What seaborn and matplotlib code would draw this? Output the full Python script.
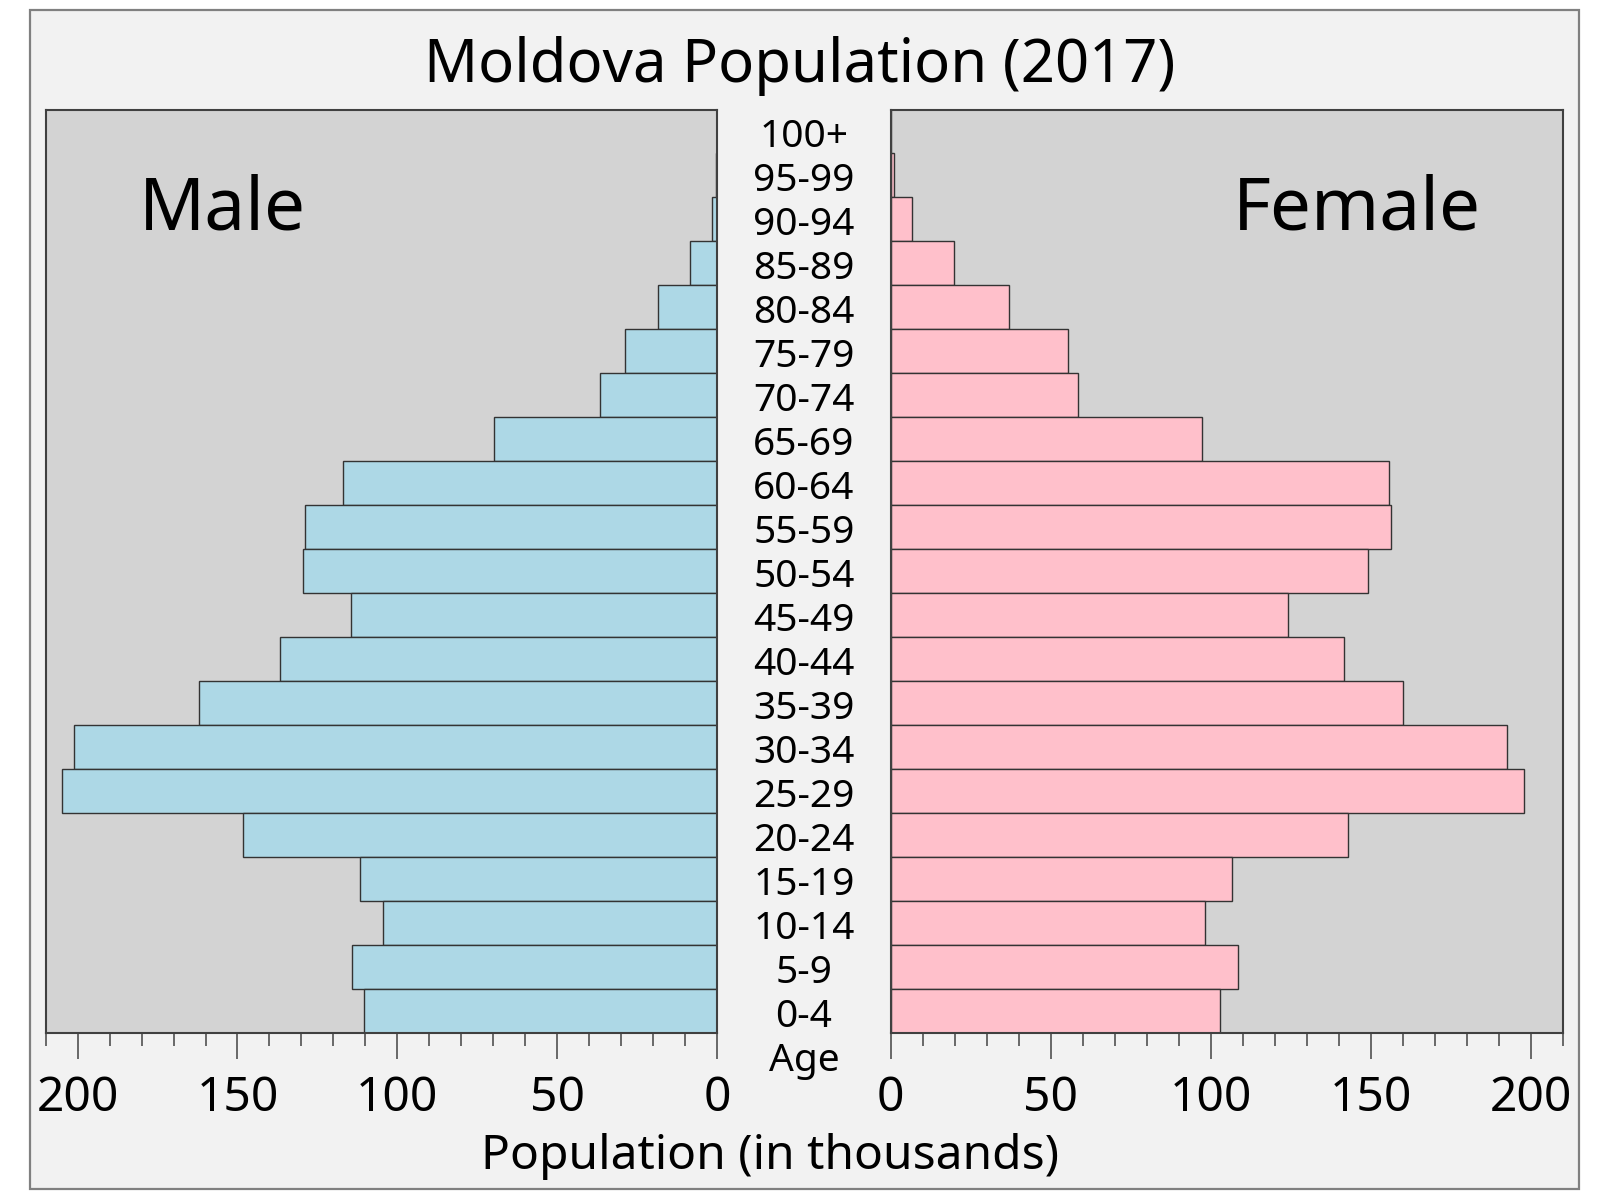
import matplotlib
matplotlib.use("Agg")
import matplotlib.pyplot as plt
import matplotlib.transforms as mtransforms
from matplotlib.patches import Rectangle
from matplotlib.ticker import MultipleLocator
import seaborn as sns
import pandas as pd

# ---- data (thousands) ----
age_groups = ["100+", "95-99", "90-94", "85-89", "80-84", "75-79", "70-74",
              "65-69", "60-64", "55-59", "50-54", "45-49", "40-44", "35-39",
              "30-34", "25-29", "20-24", "15-19", "10-14", "5-9", "0-4"]
male = [0.1, 0.4, 1.6, 8.3, 18.6, 28.8, 36.5, 69.8, 117.1, 129.0, 129.6,
        114.6, 136.6, 162.2, 201.0, 204.8, 148.2, 111.7, 104.6, 114.2, 110.4]
female = [0.2, 1.0, 6.7, 19.8, 37.1, 55.4, 58.6, 97.3, 155.8, 156.2, 149.1,
          124.2, 141.8, 160.0, 192.6, 197.8, 143.0, 106.6, 98.2, 108.5, 103.0]
x_ticks = [0, 50, 100, 150, 200]

title = "Moldova Population (2017)"
xlabel = "Population (in thousands)"

df = pd.DataFrame({"age": age_groups, "male": male, "female": female})

sns.set_style("ticks")
plt.rcParams["font.family"] = ["Noto Sans", "DejaVu Sans"]
plt.rcParams["text.color"] = "black"

W, H = 1600, 1200
fig = plt.figure(figsize=(16, 12), dpi=100, facecolor="white")

# outer panel
fig.patches.append(Rectangle((30 / W, 1 - 1189 / H), (1579 - 30) / W, (1189 - 10) / H,
                             transform=fig.transFigure, facecolor="#f2f2f2",
                             edgecolor="#808080", linewidth=1.6, zorder=-10))

ax_bottom = 1 - 1033 / H
ax_height = (1033 - 109.5) / H
axL = fig.add_axes([45.7 / W, ax_bottom, (717 - 45.7) / W, ax_height])
axR = fig.add_axes([890.7 / W, ax_bottom, (1562.7 - 890.7) / W, ax_height])

edge = "#333333"
sns.barplot(data=df, y="age", x="male", order=age_groups, orient="h", ax=axL,
            color="#add8e6", saturation=1, width=1.0, edgecolor=edge, linewidth=1.0)
sns.barplot(data=df, y="age", x="female", order=age_groups, orient="h", ax=axR,
            color="#ffc0cb", saturation=1, width=1.0, edgecolor=edge, linewidth=1.0)

axL.set_xlim(210, 0)
axR.set_xlim(0, 210)
n = len(age_groups)
for ax in (axL, axR):
    ax.set_ylim(n - 0.5, -0.5)
    ax.set_facecolor("#d3d3d3")
    ax.set_xlabel("")
    ax.set_ylabel("")
    ax.set_yticks([])
    ax.set_xticks(x_ticks)
    ax.set_xticklabels([str(t) for t in x_ticks])
    ax.xaxis.set_minor_locator(MultipleLocator(10))
    ax.tick_params(axis="x", which="major", length=19, width=1.2, color="#505050",
                   labelsize=34.5, pad=11, labelcolor="black")
    ax.tick_params(axis="x", which="minor", length=9, width=1.2, color="#505050")
    for s in ax.spines.values():
        s.set_visible(True)
        s.set_color("#404040")
        s.set_linewidth(1.5)

# age labels in the middle gap
trans = mtransforms.blended_transform_factory(fig.transFigure, axL.transData)
trans = trans + mtransforms.ScaledTranslation(0, -6 / 100, fig.dpi_scale_trans)
for i, lab in enumerate(age_groups):
    fig.text(804 / W, i, lab, transform=trans, ha="center", va="center",
             fontsize=28, color="black")
fig.text(804 / W, 1 - 1071 / H, "Age", ha="center", va="baseline", fontsize=28,
         color="black")

fig.text(800 / W, 1 - 82 / H, title, ha="center", va="baseline", fontsize=43,
         color="black")
fig.text(770 / W, 1 - 1169 / H, xlabel, ha="center", va="baseline", fontsize=34.5,
         color="black")
fig.text(222 / W, 1 - 230 / H, "Male", ha="center", va="baseline", fontsize=52.5,
         color="black")
fig.text(1357 / W, 1 - 230 / H, "Female", ha="center", va="baseline", fontsize=52.5,
         color="black")

fig.savefig("out.png", dpi=100, facecolor="white")
